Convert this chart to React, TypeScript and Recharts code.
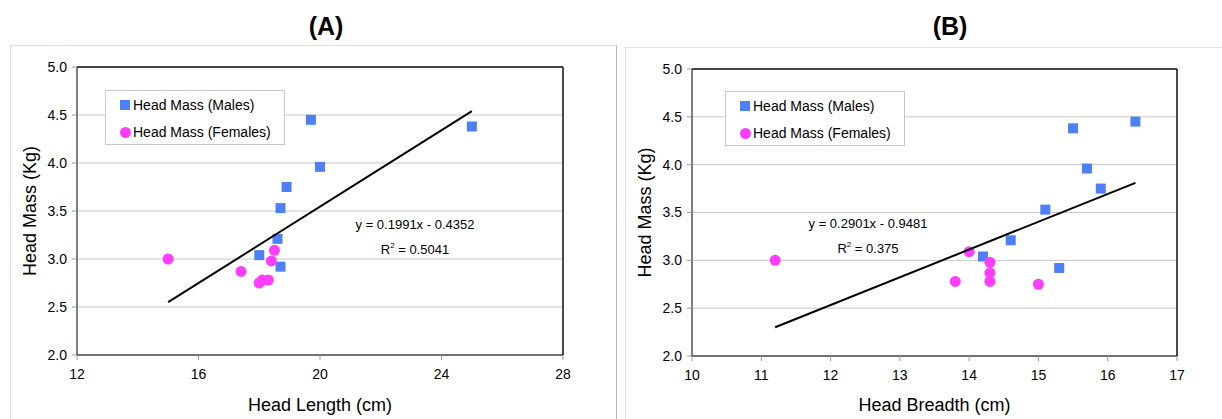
import React from 'react';
import {
  ScatterChart,
  Scatter,
  XAxis,
  YAxis,
  CartesianGrid,
  ReferenceLine,
  Label,
} from 'recharts';

// values
const malesLength = [
  { x: 18.0, y: 3.04 },
  { x: 18.6, y: 3.21 },
  { x: 18.7, y: 2.92 },
  { x: 18.7, y: 3.53 },
  { x: 18.9, y: 3.75 },
  { x: 19.7, y: 4.45 },
  { x: 20.0, y: 3.96 },
  { x: 25.0, y: 4.38 },
];
const femalesLength = [
  { x: 15.0, y: 3.0 },
  { x: 17.4, y: 2.87 },
  { x: 18.0, y: 2.75 },
  { x: 18.1, y: 2.78 },
  { x: 18.3, y: 2.78 },
  { x: 18.4, y: 2.98 },
  { x: 18.5, y: 3.09 },
];
const trendLength = [
  { x: 15.0, y: 2.55 },
  { x: 25.0, y: 4.54 },
];

const malesBreadth = [
  { x: 14.2, y: 3.04 },
  { x: 14.6, y: 3.21 },
  { x: 15.3, y: 2.92 },
  { x: 15.1, y: 3.53 },
  { x: 15.9, y: 3.75 },
  { x: 16.4, y: 4.45 },
  { x: 15.7, y: 3.96 },
  { x: 15.5, y: 4.38 },
];
const femalesBreadth = [
  { x: 11.2, y: 3.0 },
  { x: 14.3, y: 2.87 },
  { x: 15.0, y: 2.75 },
  { x: 13.8, y: 2.78 },
  { x: 14.3, y: 2.78 },
  { x: 14.3, y: 2.98 },
  { x: 14.0, y: 3.09 },
];
const trendBreadth = [
  { x: 11.2, y: 2.3 },
  { x: 16.4, y: 3.81 },
];

const yTicks = [2.0, 2.5, 3.0, 3.5, 4.0, 4.5, 5.0];
const xTicksLength = [12, 16, 20, 24, 28];
const xTicksBreadth = [10, 11, 12, 13, 14, 15, 16, 17];

const FONT = '"Liberation Sans", Arial, sans-serif';
const BLUE = '#4d80f6';
const MAGENTA = '#ff3dff';

const SquareDot = (props: any) => {
  const { cx, cy } = props;
  if (cx == null || cy == null) return <g />;
  return <rect x={cx - 5} y={cy - 5} width={10} height={10} fill={BLUE} />;
};
const CircleDot = (props: any) => {
  const { cx, cy } = props;
  if (cx == null || cy == null) return <g />;
  return <circle cx={cx} cy={cy} r={5.5} fill={MAGENTA} />;
};
const NoDot = () => <g />;

const LegendBox = ({ left, top }: { left: number; top: number }) => (
  <div
    style={{
      position: 'absolute',
      left,
      top,
      border: '1px solid #c8c8c8',
      background: '#fff',
      width: 180,
      height: 55,
      boxSizing: 'border-box',
      fontFamily: FONT,
      fontSize: 14,
      color: '#000',
      paddingLeft: 14,
      paddingTop: 3,
    }}
  >
    <div style={{ display: 'flex', alignItems: 'center', height: 22 }}>
      <span style={{ width: 10, height: 10, background: BLUE, marginRight: 3, display: 'inline-block' }} />
      Head Mass (Males)
    </div>
    <div style={{ display: 'flex', alignItems: 'center', height: 22, marginTop: 5 }}>
      <span style={{ width: 11, height: 11, borderRadius: '50%', background: MAGENTA, marginRight: 2, display: 'inline-block' }} />
      Head Mass (Females)
    </div>
  </div>
);

interface PanelProps {
  males: { x: number; y: number }[];
  females: { x: number; y: number }[];
  trend: { x: number; y: number }[];
  xTicks: number[];
  xLabel: string;
  width: number;
  margin: { top: number; right: number; left: number; bottom: number };
  yWidth: number;
  xHeight: number;
  yLabelOffset: number;
}

const Panel: React.FC<PanelProps> = ({ males, females, trend, xTicks, xLabel, width, margin, yWidth, xHeight, yLabelOffset }) => {
  const xMin = xTicks[0];
  const xMax = xTicks[xTicks.length - 1];
  const tickStyle = { fontFamily: FONT, fontSize: 14, fill: '#000' };
  return (
    <ScatterChart width={width} height={419} margin={margin} style={{ fontFamily: FONT }}>
      <CartesianGrid vertical={false} horizontal stroke="#c8c8c8" strokeWidth={1} />
      <XAxis
        type="number"
        dataKey="x"
        domain={[xMin, xMax]}
        ticks={xTicks}
        height={xHeight}
        tick={tickStyle}
        tickSize={5}
        tickMargin={9}
        stroke="#000"
        tickLine={{ stroke: '#999' }}
        allowDataOverflow
      >
        <Label value={xLabel} position="insideBottom" offset={8} style={{ fontFamily: FONT, fontSize: 18, fill: '#000' }} />
      </XAxis>
      <YAxis
        type="number"
        dataKey="y"
        domain={[2, 5]}
        ticks={yTicks}
        width={yWidth}
        tick={tickStyle}
        tickFormatter={(v: number) => v.toFixed(1)}
        tickSize={5}
        tickMargin={5}
        stroke="#000"
        tickLine={{ stroke: '#999' }}
        allowDataOverflow
      >
        <Label
          value="Head Mass (Kg)"
          angle={-90}
          position="insideLeft"
          offset={yLabelOffset}
          style={{ textAnchor: 'middle', fontFamily: FONT, fontSize: 18, fill: '#000' }}
        />
      </YAxis>
      {/* plot frame, top and right */}
      <ReferenceLine y={5} stroke="#111" strokeWidth={1.5} />
      <ReferenceLine x={xMax} stroke="#111" strokeWidth={1.5} />
      <Scatter
        name="Head Mass (Males)"
        data={males}
        shape={SquareDot}
        fill={BLUE}
        isAnimationActive={false}
      />
      <Scatter
        name="Head Mass (Females)"
        data={females}
        shape={CircleDot}
        fill={MAGENTA}
        isAnimationActive={false}
      />
      <Scatter
        name="trend"
        data={trend}
        shape={NoDot}
        line={{ stroke: '#000', strokeWidth: 2 }}
        legendType="none"
        isAnimationActive={false}
      />
    </ScatterChart>
  );
};

const annotationStyle: React.CSSProperties = {
  position: 'absolute',
  fontFamily: FONT,
  fontSize: 13,
  color: '#000',
  textAlign: 'center',
  lineHeight: '25px',
  width: 170,
};

const titleStyle: React.CSSProperties = {
  position: 'absolute',
  top: 12,
  fontFamily: FONT,
  fontSize: 25,
  fontWeight: 'bold',
  color: '#000',
  width: 60,
  textAlign: 'center',
};

export default function App() {
  return (
    <div style={{ position: 'absolute', left: 0, top: 0, width: 1222, height: 419, background: '#fff', overflow: 'hidden' }}>
      <div style={{ ...titleStyle, left: 296 }}>(A)</div>
      <div style={{ ...titleStyle, left: 920 }}>(B)</div>
      <div style={{ position: 'absolute', left: 10, top: 45, width: 607, height: 380, border: '1px solid #e0e0e0', borderRightColor: '#bbb', boxSizing: 'border-box' }} />
      <div style={{ position: 'absolute', left: 625, top: 47, width: 600, height: 380, border: '1px solid #e0e0e0', boxSizing: 'border-box' }} />
      <div style={{ position: 'absolute', left: 0, top: 0 }}>
        <Panel
          males={malesLength}
          females={femalesLength}
          trend={trendLength}
          xTicks={xTicksLength}
          xLabel="Head Length (cm)"
          width={620}
          margin={{ top: 67, right: 57, left: 0, bottom: 0 }}
          yWidth={77}
          xHeight={64}
          yLabelOffset={30}
        />
      </div>
      <div style={{ position: 'absolute', left: 620, top: 0 }}>
        <Panel
          males={malesBreadth}
          females={femalesBreadth}
          trend={trendBreadth}
          xTicks={xTicksBreadth}
          xLabel="Head Breadth (cm)"
          width={602}
          margin={{ top: 69, right: 45, left: 0, bottom: 0 }}
          yWidth={72}
          xHeight={63}
          yLabelOffset={25}
        />
      </div>
      <LegendBox left={105} top={90} />
      <LegendBox left={725} top={91} />
      <div style={{ ...annotationStyle, left: 330, top: 212 }}>
        <div>y = 0.1991x - 0.4352</div>
        <div>R<sup style={{ fontSize: 8, verticalAlign: 'top', lineHeight: '18px' }}>2</sup> = 0.5041</div>
      </div>
      <div style={{ ...annotationStyle, left: 783, top: 211 }}>
        <div>y = 0.2901x - 0.9481</div>
        <div>R<sup style={{ fontSize: 8, verticalAlign: 'top', lineHeight: '18px' }}>2</sup> = 0.375</div>
      </div>
    </div>
  );
}
